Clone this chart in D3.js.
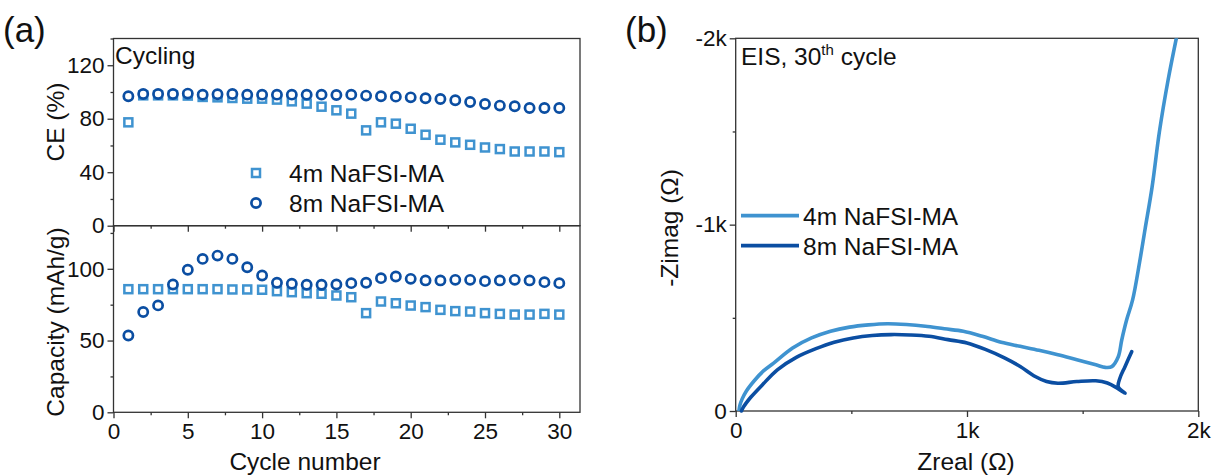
<!DOCTYPE html>
<html>
<head>
<meta charset="utf-8">
<script src="https://cdn.jsdelivr.net/npm/d3@7"></script>
<style>
  body { margin: 0; background: #fff; }
  svg text { font-family: "Liberation Sans", Arial, sans-serif; fill: #111; }
</style>
</head>
<body>
<svg id="chart" width="1217" height="475"></svg>
<script>
// cycle numbers
const cycles = [1, 2, 3, 4, 5, 6, 7, 8, 9, 10, 11, 12, 13, 14, 15, 16, 17, 18, 19, 20, 21, 22, 23, 24, 25, 26, 27, 28, 29, 30];

// coulombic efficiency (%)
const ce4m = [77.3, 97.5, 97.5, 97.5, 97.3, 96.3, 96.0, 95.5, 95.0, 95.0, 94.3, 93.0, 91.3, 89.0, 86.3, 83.8, 71.3, 77.3, 76.3, 72.5, 68.0, 64.3, 62.3, 60.5, 58.5, 57.3, 55.5, 55.5, 55.5, 55.0];
const ce8m = [96.8, 98.5, 98.5, 98.5, 98.8, 98.0, 98.3, 98.5, 98.0, 98.0, 98.0, 98.0, 98.0, 98.0, 97.8, 98.0, 97.3, 96.8, 96.5, 96.0, 95.3, 94.8, 93.8, 92.5, 91.0, 89.8, 89.3, 88.0, 88.0, 88.0];

// discharge capacity (mAh/g)
const cap4m = [85.8, 85.8, 85.8, 85.8, 85.8, 85.8, 85.8, 85.6, 85.6, 85.4, 84.4, 83.7, 83.0, 82.6, 81.4, 80.2, 69.1, 77.2, 76.0, 74.4, 73.3, 71.4, 70.5, 70.2, 69.1, 68.6, 68.1, 68.1, 68.6, 68.1];
const cap8m = [53.5, 69.9, 74.5, 89.1, 99.3, 106.9, 109.2, 106.9, 101.1, 95.3, 90.3, 89.6, 88.9, 88.9, 89.1, 90.0, 90.3, 93.5, 94.6, 93.0, 91.9, 91.9, 92.3, 92.3, 91.4, 91.9, 92.3, 91.9, 90.7, 90.0];

// EIS, 30th cycle: Zreal and -Zimag (ohm)
const eis4mRe = [14, 18, 28, 45, 82, 120, 164, 246, 328, 410, 492, 574, 656, 738, 820, 902, 984, 1066, 1148, 1230, 1311, 1393, 1475, 1557, 1598, 1626, 1654, 1669, 1690, 1716, 1746, 1770, 1800, 1832, 1870, 1905];
const eis4mIm = [0, 30, 65, 105, 165, 215, 257, 338, 392, 428, 450, 462, 468, 464, 455, 441, 428, 401, 369, 347, 326, 302, 275, 248, 234, 238, 291, 381, 488, 596, 797, 977, 1200, 1500, 1780, 2000];
const eis8mRe = [25, 32, 45, 66, 115, 180, 262, 344, 426, 508, 590, 672, 754, 836, 918, 1000, 1082, 1164, 1230, 1295, 1344, 1393, 1475, 1557, 1607, 1648, 1683, 1654, 1661, 1683, 1712];
const eis8mIm = [0, 18, 42, 75, 140, 221, 288, 333, 369, 392, 405, 410, 408, 401, 383, 365, 329, 284, 239, 185, 158, 149, 158, 162, 150, 124, 95, 130, 176, 238, 318];

// ticks
const cycleTicks = [0, 5, 10, 15, 20, 25, 30];
const cycleMinor = [2.5, 7.5, 12.5, 17.5, 22.5, 27.5];
const ceTicks = [0, 40, 80, 120];
const ceMinor = [20, 60, 100, 140];
const capTicks = [0, 50, 100];
const capMinor = [25, 75, 125];
const zTicks = [0, 1000, 2000];
const zMinor = [500, 1500];
const zReLabels = ['0', '1k', '2k'];
const zImLabels = ['0', '-1k', '-2k'];

const seriesNames = ['4m NaFSI-MA', '8m NaFSI-MA'];
const light = '#3f93d0';
const dark = '#0b4ea2';
const frameColor = '#333';
const tickFont = 22.5;
const labelFont = 24.5;

const svg = d3.select('#chart');
svg.append('rect').attr('width', 1217).attr('height', 475).attr('fill', '#fff');

// ---------- panel (a) ----------
const aLeft = 113.5, aRight = 580, aTop = 38.5, aMid = 225.7, aBottom = 412.3;

const x = d3.scaleLinear().domain([0, 31.4]).range([aLeft, aLeft + 31.4 * 14.86]);
const yCE = d3.scaleLinear().domain([0, 140]).range([aMid, aTop]);
const yCap = d3.scaleLinear().domain([0, 130]).range([aBottom, aBottom - 130 * 1.435]);

function styleAxis(g) {
  g.selectAll('path').remove();
  g.selectAll('line').attr('stroke', frameColor).attr('stroke-width', 1.3);
  g.selectAll('text').attr('font-size', tickFont).attr('fill', '#111');
}

function frame(x0, y0, x1, y1) {
  svg.append('rect')
    .attr('x', x0).attr('y', y0)
    .attr('width', x1 - x0).attr('height', y1 - y0)
    .attr('fill', 'none')
    .attr('stroke', frameColor)
    .attr('stroke-width', 1.3);
}

// y axes
svg.append('g').attr('transform', 'translate(' + aLeft + ',0)')
  .call(d3.axisLeft(yCE).tickValues(ceTicks).tickSize(6).tickPadding(3))
  .call(styleAxis);
svg.append('g').attr('transform', 'translate(' + aLeft + ',0)')
  .call(d3.axisLeft(yCE).tickValues(ceMinor).tickSize(3).tickFormat(''))
  .call(styleAxis);
svg.append('g').attr('transform', 'translate(' + aLeft + ',0)')
  .call(d3.axisLeft(yCap).tickValues(capTicks).tickSize(6).tickPadding(3))
  .call(styleAxis);
svg.append('g').attr('transform', 'translate(' + aLeft + ',0)')
  .call(d3.axisLeft(yCap).tickValues(capMinor).tickSize(3).tickFormat(''))
  .call(styleAxis);

// x axes (top panel without labels)
svg.append('g').attr('transform', 'translate(0,' + aMid + ')')
  .call(d3.axisBottom(x).tickValues(cycleTicks).tickSize(6).tickFormat(''))
  .call(styleAxis);
svg.append('g').attr('transform', 'translate(0,' + aMid + ')')
  .call(d3.axisBottom(x).tickValues(cycleMinor).tickSize(3).tickFormat(''))
  .call(styleAxis);
svg.append('g').attr('transform', 'translate(0,' + aBottom + ')')
  .call(d3.axisBottom(x).tickValues(cycleTicks).tickSize(6).tickPadding(5))
  .call(styleAxis);
svg.append('g').attr('transform', 'translate(0,' + aBottom + ')')
  .call(d3.axisBottom(x).tickValues(cycleMinor).tickSize(3).tickFormat(''))
  .call(styleAxis);

frame(aLeft, aTop, aRight, aMid);
frame(aLeft, aMid, aRight, aBottom);

const sq = 8;
const rc = 4.6;
function squares(vals, yScale) {
  svg.append('g').selectAll('rect')
    .data(cycles)
    .enter()
    .append('rect')
    .attr('x', function(d) { return x(d) - sq / 2; })
    .attr('y', function(d, i) { return yScale(vals[i]) - sq / 2; })
    .attr('width', sq)
    .attr('height', sq)
    .attr('fill', '#fff')
    .attr('stroke', light)
    .attr('stroke-width', 2.5);
}
function circles(vals, yScale) {
  svg.append('g').selectAll('circle')
    .data(cycles)
    .enter()
    .append('circle')
    .attr('cx', function(d) { return x(d); })
    .attr('cy', function(d, i) { return yScale(vals[i]); })
    .attr('r', rc)
    .attr('fill', '#fff')
    .attr('stroke', dark)
    .attr('stroke-width', 2.7);
}
squares(ce4m, yCE);
circles(ce8m, yCE);
squares(cap4m, yCap);
circles(cap8m, yCap);

svg.append('text').attr('x', 115).attr('y', 64).attr('font-size', labelFont).text('Cycling');

// legend (a)
svg.append('rect').attr('x', 256 - sq / 2).attr('y', 173 - sq / 2).attr('width', sq).attr('height', sq)
  .attr('fill', '#fff').attr('stroke', light).attr('stroke-width', 2.5);
svg.append('circle').attr('cx', 256).attr('cy', 203).attr('r', rc)
  .attr('fill', '#fff').attr('stroke', dark).attr('stroke-width', 2.7);
svg.append('text').attr('x', 289).attr('y', 182).attr('font-size', labelFont).text(seriesNames[0]);
svg.append('text').attr('x', 289).attr('y', 212).attr('font-size', labelFont).text(seriesNames[1]);

// axis titles (a)
svg.append('text').attr('transform', 'translate(64,122) rotate(-90)')
  .attr('text-anchor', 'middle').attr('font-size', labelFont).text('CE (%)');
svg.append('text').attr('transform', 'translate(64,322) rotate(-90)')
  .attr('text-anchor', 'middle').attr('font-size', labelFont).text('Capacity (mAh/g)');
svg.append('text').attr('x', 305).attr('y', 470)
  .attr('text-anchor', 'middle').attr('font-size', labelFont).text('Cycle number');

svg.append('text').attr('x', 3).attr('y', 42)
  .attr('font-family', '"Open Sans", sans-serif').attr('font-size', 35).text('(a)');

// ---------- panel (b) ----------
const bLeft = 735.7, bRight = 1198.3, bTop = 38.3, bBottom = 411;
const xz = d3.scaleLinear().domain([0, 2000]).range([bLeft, bRight]);
const yz = d3.scaleLinear().domain([0, 2000]).range([bBottom, bTop]);

svg.append('g').attr('transform', 'translate(' + bLeft + ',0)')
  .call(d3.axisLeft(yz).tickValues(zTicks).tickSize(6).tickPadding(3)
    .tickFormat(function(d, i) { return zImLabels[i]; }))
  .call(styleAxis);
svg.append('g').attr('transform', 'translate(' + bLeft + ',0)')
  .call(d3.axisLeft(yz).tickValues(zMinor).tickSize(3).tickFormat(''))
  .call(styleAxis);
svg.append('g').attr('transform', 'translate(0,' + bBottom + ')')
  .call(d3.axisBottom(xz).tickValues(zTicks).tickSize(6).tickPadding(5)
    .tickFormat(function(d, i) { return zReLabels[i]; }))
  .call(styleAxis);
svg.append('g').attr('transform', 'translate(0,' + bBottom + ')')
  .call(d3.axisBottom(xz).tickValues(zMinor).tickSize(3).tickFormat(''))
  .call(styleAxis);

frame(bLeft, bTop, bRight, bBottom);

svg.append('clipPath').attr('id', 'clipB')
  .append('rect').attr('x', bLeft).attr('y', bTop).attr('width', bRight - bLeft).attr('height', bBottom - bTop);

const line = d3.line()
  .x(function(d) { return xz(d[0]); })
  .y(function(d) { return yz(d[1]); })
  .curve(d3.curveCatmullRom.alpha(0.5));

const eis4m = eis4mRe.map(function(v, i) { return [v, eis4mIm[i]]; });
const eis8m = eis8mRe.map(function(v, i) { return [v, eis8mIm[i]]; });

svg.append('path').datum(eis4m)
  .attr('d', line)
  .attr('fill', 'none')
  .attr('stroke', light)
  .attr('stroke-width', 3.6)
  .attr('stroke-linejoin', 'round')
  .attr('stroke-linecap', 'round')
  .attr('clip-path', 'url(#clipB)');
svg.append('path').datum(eis8m)
  .attr('d', line)
  .attr('fill', 'none')
  .attr('stroke', dark)
  .attr('stroke-width', 3.6)
  .attr('stroke-linejoin', 'round')
  .attr('stroke-linecap', 'round');

// legend (b)
[light, dark].forEach(function(c, i) {
  svg.append('line')
    .attr('x1', 741).attr('x2', 799)
    .attr('y1', 215.7 + i * 30).attr('y2', 215.7 + i * 30)
    .attr('stroke', c).attr('stroke-width', 3.8);
  svg.append('text').attr('x', 803).attr('y', 224.5 + i * 30)
    .attr('font-size', labelFont).text(seriesNames[i]);
});

const eisLabel = svg.append('text').attr('x', 741).attr('y', 65).attr('font-size', labelFont);
eisLabel.append('tspan').text('EIS, 30');
eisLabel.append('tspan').attr('font-size', 15).attr('dy', -10).text('th');
eisLabel.append('tspan').attr('dy', 10).text(' cycle');

svg.append('text').attr('transform', 'translate(678,228) rotate(-90)')
  .attr('text-anchor', 'middle').attr('font-size', labelFont).text('-Zimag (Ω)');
svg.append('text').attr('x', 966).attr('y', 470)
  .attr('text-anchor', 'middle').attr('font-size', labelFont).text('Zreal (Ω)');

svg.append('text').attr('x', 625).attr('y', 42)
  .attr('font-family', '"Open Sans", sans-serif').attr('font-size', 35).text('(b)');
</script>
</body>
</html>
